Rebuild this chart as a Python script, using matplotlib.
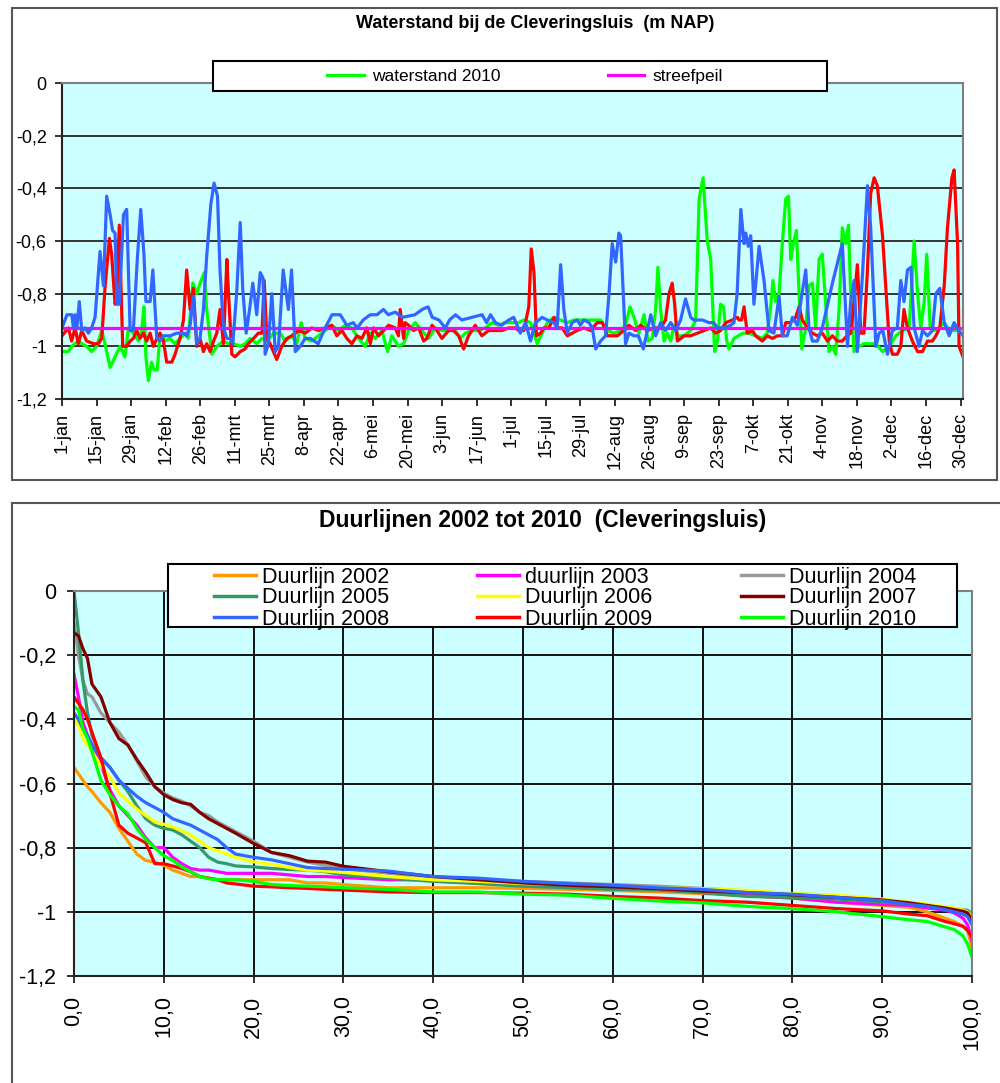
import matplotlib
matplotlib.use("Agg")
import matplotlib.pyplot as plt
from matplotlib.patches import Rectangle
from matplotlib.lines import Line2D

plt.rcParams['font.family'] = ['Liberation Sans', 'DejaVu Sans']

# ---------------- data: waterstand (top chart) ----------------
date_labels = ["1-jan", "15-jan", "29-jan", "12-feb", "26-feb", "11-mrt", "25-mrt", "8-apr",
               "22-apr", "6-mei", "20-mei", "3-jun", "17-jun", "1-jul", "15-jul", "29-jul",
               "12-aug", "26-aug", "9-sep", "23-sep", "7-okt", "21-okt", "4-nov", "18-nov",
               "2-dec", "16-dec", "30-dec"]
n_days = 366
streefpeil = -0.93

green_days = [0, 2.6, 3.9, 5.3, 6.6, 8, 10, 12, 14, 16.1, 17.4, 19.5, 21.5, 23.5, 25.5, 26.9, 28.9, 31,
              32.3, 33.2, 34, 35, 36.3, 37.3, 38.6, 39.7, 41.8, 43.8, 45.8, 47.8, 49.9, 51.2, 53, 54.6,
              56, 57.6, 58.6, 60.7, 62.7, 65.4, 67.4, 69.5, 72.2, 74.2, 76.2, 78.9, 81, 83, 85.7, 88.4,
              90.4, 93.1, 95.1, 96.9, 98.5, 101.2, 103.9, 106.6, 109.3, 112, 114.7, 117.4, 120.1, 122.8,
              124.9, 126.9, 129.6, 131.9, 133.6, 136.3, 138.4, 140.4, 143.1, 145.8, 148.5, 151.2, 153.9,
              156.6, 159.3, 161.3, 163.4, 166.1, 168.8, 171.5, 174.2, 176.9, 179.6, 182.3, 185, 187.1,
              189.8, 191.2, 192.5, 194.5, 196.6, 199.3, 202, 204.7, 207.4, 210, 212.8, 215.5, 218.2,
              220.9, 223.6, 226.3, 228.3, 230.1, 231.7, 233.7, 235.8, 237.4, 239.1, 240.5, 241.4, 242.5,
              243.9, 245.2, 246.6, 248, 249.3, 252, 254.7, 256.7, 258.1, 259.7, 261.4, 262.8, 264.4,
              265.5, 266.8, 268, 269.3, 270.2, 272.2, 274, 276, 278.3, 281, 283.7, 285.7, 287.1, 288,
              289.1, 290.5, 291.8, 293.2, 294.3, 295.2, 296.1, 297.5, 298.6, 299.7, 301.3, 302.6, 304,
              305.3, 306.7, 308, 309.1, 310.7, 312.1, 313.4, 314.8, 316.1, 317.5, 318.6, 319.5, 320.9,
              322.9, 324.9, 327, 329.7, 332.4, 335.1, 337.8, 340.5, 343.2, 345.2, 346.6, 347.9, 349.3,
              350.3, 351.7, 353.3, 355.3, 357.4, 359.4, 362.1, 365]
green_vals = [-1.02, -1.02, -1.0, -0.99, -0.98, -0.99, -1.0, -1.02, -1.0, -0.94, -0.99, -1.08, -1.04, -1.0,
              -1.04, -0.93, -0.95, -0.98, -0.94, -0.85, -1.04, -1.13, -1.06, -1.09, -1.09, -0.95, -0.98,
              -0.97, -0.99, -0.97, -0.95, -0.97, -0.76, -0.8, -0.76, -0.72, -0.86, -1.03, -1.0, -0.98,
              -0.99, -0.99, -1.0, -0.99, -0.97, -0.99, -0.97, -0.98, -0.95, -0.95,
              -0.98, -0.96, -0.99, -0.91, -0.97, -0.98, -0.96, -0.94, -0.92, -0.94, -0.92, -0.93, -0.97,
              -1.0, -0.95, -0.97, -0.94, -1.02, -0.96, -1.0, -0.99, -0.94, -0.91, -0.94, -0.97, -0.93,
              -0.94, -0.94, -0.94, -0.97, -0.95, -0.94, -0.94, -0.93, -0.91, -0.92, -0.91, -0.91, -0.91,
              -0.9, -0.91, -0.95, -0.99, -0.95, -0.91, -0.89, -0.9, -0.91, -0.9, -0.9, -0.9, -0.9, -0.9,
              -0.94, -0.95, -0.94, -0.92, -0.85, -0.89, -0.95, -0.88, -0.98, -0.97, -0.86, -0.7, -0.86,
              -0.98, -0.95, -0.98, -0.92, -0.96, -0.96, -0.94, -0.9, -0.44, -0.36, -0.6, -0.67, -1.02,
              -0.98, -0.84, -0.85, -0.98, -1.01, -0.97, -0.96, -0.95, -0.95, -0.96, -0.97, -0.95, -0.85,
              -0.75, -0.83, -0.8, -0.61, -0.44, -0.43, -0.67, -0.62, -0.56, -0.8, -1.01, -0.93, -0.77,
              -0.76, -0.93, -0.67, -0.65, -0.8, -1.02, -1.0, -1.03, -0.86, -0.55, -0.61, -0.54, -0.8,
              -1.02, -1.0, -0.99, -0.99, -0.99, -1.02, -1.0, -0.96, -0.94, -0.93, -0.6, -0.8, -0.93,
              -0.83, -0.65, -0.93, -0.94, -0.93, -0.91, -0.94, -0.94, -0.93]

red_days = [0, 2.6, 3.9, 5.3, 6.6, 8, 10, 12.7, 14.7, 16.1, 17.4, 19.2, 20.1, 21.5, 22.2, 23.2, 24.6, 26.2,
            27.6, 28.9, 30.3, 31.6, 33, 34.3, 35.7, 37, 38.4, 39.7, 41.1, 42.4, 44.5, 45.8, 47.8, 49.2,
            50.5, 51.9, 53.2, 54.6, 55.9, 57.3, 58.6, 60, 61.4, 62.7, 64, 65.4, 66.8, 67.4, 68.8, 70.1,
            72.2, 74.2, 75.5, 77.6, 79.5, 81, 81.9, 83, 84.3, 87, 89, 91.1, 93.1, 95.8, 98.5, 101.2,
            103.9, 106.6, 109.3, 111.3, 113.4, 115.4, 117.4, 119.5, 121.5, 123.5, 124.9, 126.2, 128.2,
            130.3, 132.3, 135, 136.3, 137, 138.4, 139, 140.4, 142.4, 144.5, 146.5, 147.8, 149.9, 151.9,
            153.9, 156.6, 158.6, 160.7, 162.7, 164.7, 167.4, 170.1, 172.8, 175.5, 178.2, 181, 183.6,
            185, 187.1, 189.1, 190.1, 191.2, 192.2, 193.9, 195.2, 197.2, 199.3, 200.6, 202.6, 204.7,
            206.7, 208.7, 211.4, 214.1, 216.8, 218.9, 220.9, 222.9, 225, 227.6, 229.7, 232.4, 234.4,
            237.1, 239.8, 242.5, 244.5, 245.9, 247.2, 248.2, 249.3, 252, 254.7, 257.4, 260.1, 262.8,
            264.8, 266.8, 268.9, 271.6, 273.6, 274.3, 275.3, 276.3, 277.6, 279.7, 281, 283.7, 285.7,
            287.8, 289.8, 291.8, 293.2, 295.2, 297.2, 298.6, 299.9, 302, 304, 306, 308, 310.1, 312.1,
            314.1, 316.1, 318, 319.5, 320.9, 322.2, 323.6, 324.9, 326.3, 327.6, 329, 330.3, 332.4,
            333.7, 335.1, 336.4, 338.4, 339.8, 341.1, 342.5, 344.5, 346.6, 348.6, 350.6, 352.6, 354,
            355.6, 357.4, 358.7, 360.5, 361.4, 362.8, 363.4, 365]
red_vals = [-0.96, -0.93, -0.98, -0.93, -0.99, -0.94, -0.98, -0.99, -0.99, -0.97, -0.78, -0.59, -0.65,
            -0.84, -0.82, -0.54, -1.0, -1.0, -0.98, -0.97, -0.94, -0.97, -0.95, -0.98, -0.95, -1.0, -0.97,
            -0.95, -0.98, -1.06, -1.06, -1.03, -0.97, -0.9, -0.71, -0.86, -0.78, -1.0, -0.97, -1.02,
            -0.99, -1.02, -0.98, -0.95, -0.86, -0.99, -0.67, -0.79, -1.03, -1.04, -1.02, -1.01, -0.99,
            -0.97, -0.95, -0.95, -0.75, -0.97, -0.99, -1.05, -1.0, -0.97, -0.96, -0.94, -0.95, -0.93,
            -0.94, -0.93, -0.92, -0.96, -0.94, -0.97, -0.99, -0.96, -0.97, -0.93, -0.99, -0.93, -0.96,
            -0.94, -0.92, -0.93, -0.96, -0.86, -0.97, -0.91, -0.92, -0.94, -0.93, -0.98, -0.97, -0.92,
            -0.94, -0.97, -0.94, -0.94, -0.96, -1.01, -0.96, -0.92, -0.96, -0.94, -0.94, -0.94, -0.93,
            -0.93, -0.94, -0.94, -0.85, -0.63, -0.72, -0.96, -0.95, -0.93, -0.93, -0.89, -0.93, -0.93,
            -0.96, -0.95, -0.94, -0.93, -0.94, -0.91, -0.91, -0.96, -0.96, -0.96, -0.94, -0.92, -0.94,
            -0.92, -0.94, -0.93, -0.93, -0.9, -0.8, -0.76, -0.84, -0.98, -0.96, -0.96, -0.95, -0.94,
            -0.93, -0.95, -0.94, -0.91, -0.9, -0.89, -0.9, -0.9, -0.85, -0.95, -0.94, -0.96, -0.98,
            -0.96, -0.97, -0.96, -0.96, -0.91, -0.91, -0.89, -0.85, -0.9, -0.93, -0.95, -0.96, -0.95,
            -0.98, -0.96, -0.98, -0.98, -0.96, -0.95, -0.83, -0.69, -0.95, -0.95, -0.71, -0.42, -0.36,
            -0.39, -0.58, -0.77, -0.98, -1.03, -1.03, -1.0, -0.86, -0.93, -0.98, -1.02, -1.02, -0.98,
            -0.98, -0.96, -0.93, -0.77, -0.55, -0.36, -0.33, -0.61, -1.0, -1.04]

blue_days = [0, 2, 4, 4.6, 5.3, 6, 7, 8, 9.3, 10.7, 12, 13.4, 15.4, 16.8, 18.1, 19.5, 20.5, 21.5, 22.2,
             23.2, 24.9, 26.2, 27.6, 28.9, 30.5, 31.9, 33.2, 34, 35.7, 36.8, 38.4, 39.7, 41, 43.8, 46.5,
             49.2, 50.5, 51.9, 53.2, 54.6, 55.9, 57.3, 58.6, 60.3, 61.6, 63, 64, 65.4, 66.8, 68.1, 69.2,
             70.8, 72.2, 73.2, 74.6, 76, 77.3, 78.9, 80.3, 81.4, 82.3, 83.6, 85, 86.4, 87.7, 88.6, 89.6,
             91.7, 93, 94.5, 96.5, 98.5, 100.6, 103.8, 106.6, 109.4, 112.7, 115.4, 118, 119.6, 122,
             124.9, 127.6, 130.2, 132.2, 135, 137.8, 143, 145.9, 148.3, 150, 152.7, 155.3, 157, 159.4,
             162, 166, 170.2, 172, 173.6, 175.6, 178, 181, 183, 185.7, 187.8, 189.8, 191.8, 194.5,
             196.6, 199.3, 200.6, 202, 203.3, 204.7, 206.7, 208.7, 210, 211.4, 213.5, 214.8, 216.2,
             218.2, 220.2, 221.6, 222.9, 224.3, 225.6, 226.3, 228.3, 229.7, 231.7, 233.5, 235.5, 237.1,
             238.5, 240.5, 242.5, 244.5, 246.6, 248.6, 250.6, 252.6, 254.7, 256, 259.4, 262.1, 264,
             265.5, 268.2, 270.9, 272.2, 273.5, 275, 276.3, 277, 278, 279, 280.3, 282.4, 284.4, 286.4,
             288.4, 290.5, 291.8, 293.8, 295.9, 297.9, 299.3, 301.3, 302.6, 304, 306, 308, 312.1,
             316.1, 318.2, 319.5, 320.9, 322.2, 324.2, 326.3, 327.6, 329.7, 331, 332.5, 334.4, 336.4,
             338.4, 339.8, 341.1, 342.5, 343.9, 345.2, 347.2, 348.6, 350.6, 352.6, 354, 355.6, 357.4,
             359.4, 361.4, 363.2, 365]
blue_vals = [-0.93, -0.88, -0.88, -0.93, -0.88, -0.93, -0.83, -0.94, -0.93, -0.95, -0.93, -0.89, -0.64,
             -0.77, -0.43, -0.5, -0.56, -0.57, -0.84, -0.84, -0.5, -0.48, -0.94, -0.94, -0.67, -0.48,
             -0.65, -0.83, -0.83, -0.71, -0.97, -0.98, -0.96, -0.96, -0.95, -0.95, -0.96, -0.92, -0.81,
             -0.99, -0.97, -0.86, -0.66, -0.46, -0.38, -0.43, -0.71, -0.93, -0.97, -0.97, -0.99, -0.79,
             -0.53, -0.78, -0.95, -0.86, -0.76, -0.88, -0.72, -0.74, -1.03, -0.99, -0.8, -1.02, -1.0,
             -0.86, -0.71, -0.86, -0.71, -1.02, -1.0, -0.97, -0.97, -0.99, -0.93, -0.88, -0.88, -0.92,
             -0.91, -0.93, -0.9, -0.88, -0.88, -0.86, -0.88, -0.87, -0.89, -0.88, -0.86, -0.85, -0.89,
             -0.9, -0.93, -0.9, -0.88, -0.9, -0.89, -0.88, -0.91, -0.88, -0.91, -0.92, -0.9, -0.89,
             -0.95, -0.91, -0.98, -0.91, -0.89, -0.9, -0.91, -0.93, -0.69, -0.86, -0.95, -0.91, -0.9,
             -0.92, -0.9, -0.91, -0.93, -1.01, -0.98, -0.96, -0.8, -0.61, -0.68, -0.57, -0.58, -0.99,
             -0.95, -0.96, -0.96, -1.01, -0.94, -0.88, -0.96, -0.91, -0.94, -0.91, -0.94, -0.9, -0.82,
             -0.89, -0.9, -0.9, -0.91, -0.91, -0.93, -0.93, -0.92, -0.91, -0.8, -0.48, -0.61, -0.57,
             -0.62, -0.58, -0.84, -0.62, -0.75, -0.94, -0.95, -0.81, -0.96, -0.96, -0.89, -0.92, -0.83,
             -0.71, -0.93, -0.98, -0.98, -0.93, -0.76, -0.61, -1.0, -0.83, -0.75, -1.02, -0.74, -0.39,
             -0.55, -1.0, -0.95, -0.94, -1.03, -0.94, -0.93, -0.75, -0.83, -0.71, -0.7, -0.93, -1.0,
             -0.94, -0.96, -0.94, -0.8, -0.78, -0.91, -0.96, -0.91, -0.94, -0.96]

# ---------------- data: duurlijnen (bottom chart) ----------------
pct = [0, 0.5, 1, 1.5, 2, 3, 4, 5, 6, 7, 8, 9, 10, 11, 12, 13, 14, 15, 16, 17, 18, 20, 22, 24, 26, 28,
       30, 35, 40, 45, 50, 55, 60, 65, 70, 75, 80, 85, 90, 93, 95, 97, 98, 99, 99.5, 100]
d2002 = [-0.55, -0.57, -0.59, -0.61, -0.625, -0.66, -0.69, -0.74, -0.78, -0.82, -0.84, -0.845, -0.855,
         -0.87, -0.88, -0.89, -0.89, -0.895, -0.9, -0.9, -0.9, -0.9, -0.9, -0.9, -0.91, -0.91, -0.915,
         -0.925, -0.925, -0.925, -0.927, -0.93, -0.933, -0.938, -0.943, -0.95, -0.957, -0.97, -0.98,
         -0.986, -1.0, -1.02, -1.03, -1.045, -1.06, -1.11]
d2003 = [-0.26, -0.33, -0.41, -0.45, -0.48, -0.54, -0.62, -0.67, -0.7, -0.73, -0.77, -0.8, -0.8, -0.83,
         -0.85, -0.865, -0.87, -0.87, -0.875, -0.88, -0.88, -0.88, -0.88, -0.885, -0.89, -0.89, -0.893,
         -0.9, -0.9, -0.91, -0.917, -0.92, -0.927, -0.93, -0.94, -0.95, -0.957, -0.97, -0.977, -0.98,
         -0.988, -0.995, -1.003, -1.02, -1.04, -1.09]
d2004 = [-0.1, -0.2, -0.28, -0.32, -0.33, -0.38, -0.41, -0.44, -0.48, -0.53, -0.58, -0.61, -0.63, -0.645,
         -0.655, -0.67, -0.69, -0.7, -0.72, -0.735, -0.75, -0.78, -0.815, -0.83, -0.845, -0.855, -0.865,
         -0.88, -0.895, -0.9, -0.905, -0.91, -0.915, -0.92, -0.927, -0.935, -0.945, -0.955, -0.965,
         -0.973, -0.98, -0.99, -0.995, -1.0, -1.005, -1.015]
d2005 = [0.0, -0.13, -0.28, -0.38, -0.45, -0.52, -0.55, -0.59, -0.625, -0.67, -0.71, -0.73, -0.74, -0.745,
         -0.76, -0.78, -0.8, -0.83, -0.845, -0.85, -0.857, -0.86, -0.865, -0.868, -0.87, -0.875, -0.885,
         -0.895, -0.905, -0.912, -0.92, -0.925, -0.93, -0.932, -0.94, -0.952, -0.955, -0.96, -0.97,
         -0.975, -0.98, -0.988, -0.99, -0.993, -0.995, -1.005]
d2006 = [-0.39, -0.42, -0.46, -0.48, -0.5, -0.545, -0.58, -0.63, -0.655, -0.68, -0.7, -0.72, -0.727,
         -0.735, -0.747, -0.76, -0.78, -0.8, -0.81, -0.82, -0.83, -0.844, -0.852, -0.862, -0.87, -0.873,
         -0.877, -0.89, -0.9, -0.905, -0.912, -0.915, -0.92, -0.925, -0.928, -0.933, -0.943, -0.948,
         -0.96, -0.97, -0.976, -0.984, -0.988, -0.994, -1.0, -1.015]
d2007 = [-0.13, -0.14, -0.18, -0.21, -0.29, -0.33, -0.41, -0.46, -0.48, -0.525, -0.565, -0.61, -0.635,
         -0.65, -0.66, -0.665, -0.69, -0.71, -0.725, -0.74, -0.755, -0.787, -0.815, -0.825, -0.842,
         -0.845, -0.858, -0.875, -0.89, -0.9, -0.91, -0.917, -0.922, -0.928, -0.935, -0.94, -0.947,
         -0.955, -0.963, -0.972, -0.98, -0.988, -0.993, -0.998, -1.003, -1.026]
d2008 = [-0.38, -0.4, -0.43, -0.45, -0.48, -0.52, -0.55, -0.59, -0.615, -0.64, -0.66, -0.675, -0.69,
         -0.71, -0.72, -0.73, -0.745, -0.76, -0.775, -0.8, -0.82, -0.83, -0.838, -0.85, -0.862, -0.865,
         -0.867, -0.873, -0.89, -0.895, -0.905, -0.912, -0.917, -0.925, -0.93, -0.94, -0.945, -0.955,
         -0.965, -0.977, -0.983, -0.993, -1.0, -1.007, -1.015, -1.04]
d2009 = [-0.33, -0.35, -0.37, -0.4, -0.44, -0.52, -0.63, -0.73, -0.755, -0.77, -0.785, -0.85, -0.85,
         -0.857, -0.865, -0.875, -0.89, -0.895, -0.9, -0.91, -0.913, -0.92, -0.922, -0.925, -0.927,
         -0.93, -0.932, -0.938, -0.94, -0.94, -0.942, -0.945, -0.952, -0.957, -0.965, -0.97, -0.98,
         -0.99, -0.997, -1.007, -1.012, -1.03, -1.037, -1.045, -1.057, -1.08]
d2010 = [-0.36, -0.37, -0.43, -0.46, -0.5, -0.59, -0.635, -0.67, -0.695, -0.74, -0.775, -0.8, -0.825,
         -0.84, -0.86, -0.875, -0.89, -0.897, -0.9, -0.9, -0.9, -0.905, -0.915, -0.918, -0.92, -0.922,
         -0.925, -0.93, -0.938, -0.938, -0.945, -0.948, -0.958, -0.966, -0.972, -0.983, -0.99, -1.0,
         -1.015, -1.025, -1.03, -1.047, -1.055, -1.075, -1.1, -1.14]

duur_series = [("Duurlijn 2002", d2002, "#FF9900"), ("duurlijn 2003", d2003, "#FF00FF"),
               ("Duurlijn 2004", d2004, "#999999"), ("Duurlijn 2005", d2005, "#339966"),
               ("Duurlijn 2006", d2006, "#FFFF00"), ("Duurlijn 2007", d2007, "#800000"),
               ("Duurlijn 2008", d2008, "#3366FF"), ("Duurlijn 2009", d2009, "#FF0000"),
               ("Duurlijn 2010", d2010, "#00FF00")]

yticks = [0, -0.2, -0.4, -0.6, -0.8, -1.0, -1.2]
ytick_labels = ["0", "-0,2", "-0,4", "-0,6", "-0,8", "-1", "-1,2"]
pct_ticks = [0, 10, 20, 30, 40, 50, 60, 70, 80, 90, 100]
pct_labels = ["0,0", "10,0", "20,0", "30,0", "40,0", "50,0", "60,0", "70,0", "80,0", "90,0", "100,0"]

W, H = 1000, 1083
fig = plt.figure(figsize=(W / 100, H / 100), dpi=100)
fig.patch.set_facecolor("white")


def fx(px):
    return px / W


def fy(py):
    return 1 - py / H


def style_axes(ax, fs):
    ax.set_facecolor("#CCFFFF")
    for s in ("top", "right"):
        ax.spines[s].set_color("#808080")
        ax.spines[s].set_linewidth(1.5)
    for s in ("left", "bottom"):
        ax.spines[s].set_color("#222222")
        ax.spines[s].set_linewidth(1.5)
    ax.set_ylim(-1.2, 0)
    ax.set_yticks(yticks)
    ax.set_yticklabels(ytick_labels, fontsize=fs)
    ax.tick_params(direction="out", length=5, width=1.3, color="#222222")
    ax.set_axisbelow(True)


# ---------------- top chart ----------------
fig.add_artist(Rectangle((fx(12), fy(480)), fx(985), 472 / H, transform=fig.transFigure,
                         fill=False, ec="#555555", lw=1.5))
ax1 = fig.add_axes([fx(62), fy(399), fx(901), 316 / H])
style_axes(ax1, 13)
ax1.set_xlim(0, n_days - 1)
ax1.set_xticks(range(0, n_days - 1, 14))
ax1.set_xticklabels(date_labels, rotation=90, fontsize=13)
ax1.tick_params(axis="x", pad=5)
ax1.tick_params(axis="y", pad=6)
ax1.yaxis.grid(True, color="#333333", lw=1.4)

ax1.plot(green_days, green_vals, color="#00FF00", lw=2.3)
ax1.plot(red_days, red_vals, color="#FF0000", lw=2.3)
ax1.plot([0, n_days - 1], [streefpeil, streefpeil], color="#FF00FF", lw=2.3)
ax1.plot(blue_days, blue_vals, color="#3366FF", lw=2.3)

fig.text(fx(535), fy(23), "Waterstand bij de Cleveringsluis  (m NAP)", ha="center", va="center",
         fontsize=13, fontweight="bold")

fig.add_artist(Rectangle((fx(213), fy(91)), fx(614), 30 / H, transform=fig.transFigure,
                         fc="white", ec="black", lw=1.5, zorder=5))
top_handles = [Line2D([], [], color="#00FF00", lw=2.3), Line2D([], [], color="#FF00FF", lw=2.3)]
leg1 = fig.legend(top_handles, ["waterstand 2010", "streefpeil"], loc="center",
                  bbox_to_anchor=(fx(525), fy(76)), ncol=2, frameon=False, fontsize=12.5,
                  handlelength=2.1, handletextpad=0.45, columnspacing=6.2)
leg1.set_zorder(6)

# ---------------- bottom chart ----------------
fig.add_artist(Line2D([fx(12), fx(1000)], [fy(503), fy(503)], transform=fig.transFigure,
                      color="#555555", lw=1.5))
fig.add_artist(Line2D([fx(12), fx(12)], [fy(503), 0], transform=fig.transFigure,
                      color="#555555", lw=1.5))
ax2 = fig.add_axes([fx(74), fy(976), fx(898), 385 / H])
style_axes(ax2, 15.5)
ax2.set_xlim(0, 100)
ax2.set_xticks(pct_ticks)
ax2.set_xticklabels(pct_labels, rotation=90, fontsize=15.5)
ax2.tick_params(axis="x", pad=9)
ax2.tick_params(axis="y", pad=8)
ax2.grid(True, color="#111111", lw=1.4)

handles = {}
for name, vals, col in duur_series:
    line, = ax2.plot(pct, vals, color=col, lw=2.3)
    handles[name] = line

fig.text(fx(543), fy(520), "Duurlijnen 2002 tot 2010  (Cleveringsluis)", ha="center", va="center",
         fontsize=16.5, fontweight="bold")

fig.add_artist(Rectangle((fx(168), fy(627)), fx(789), 63 / H, transform=fig.transFigure,
                         fc="white", ec="black", lw=1.5, zorder=5))
order = [0, 3, 6, 1, 4, 7, 2, 5, 8]
names = [duur_series[i][0] for i in order]
leg2 = fig.legend([handles[n] for n in names], names, loc="center",
                  bbox_to_anchor=(fx(565), fy(598)), ncol=3, frameon=False, fontsize=15.5,
                  handlelength=1.95, handletextpad=0.28, columnspacing=4.1, labelspacing=0.0,
                  borderpad=0.0)
for h in leg2.get_lines():
    h.set_linewidth(2.5)
leg2.set_zorder(6)

fig.savefig("out.png", dpi=100)
